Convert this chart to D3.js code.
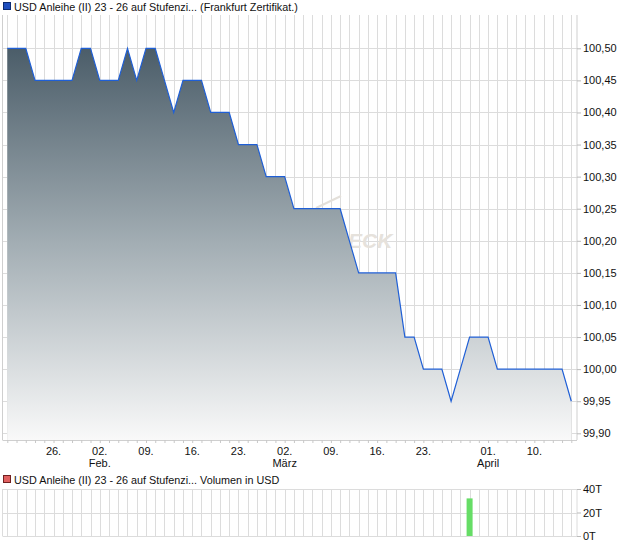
<!DOCTYPE html>
<html>
<head>
<meta charset="utf-8">
<script src="https://cdnjs.cloudflare.com/ajax/libs/d3/7.8.5/d3.min.js"></script>
<style>
  html, body { margin: 0; padding: 0; background: #fff; }
  svg { display: block; font-family: "Liberation Sans", Arial, sans-serif; }
</style>
</head>
<body>
<svg id="chart" width="620" height="546"></svg>
<script>
// ---- Data ----
const dates = [
  "2026-01-19","2026-01-20","2026-01-21","2026-01-22","2026-01-23",
  "2026-01-26","2026-01-27","2026-01-28","2026-01-29","2026-01-30",
  "2026-02-02","2026-02-03","2026-02-04","2026-02-05","2026-02-06",
  "2026-02-09","2026-02-10","2026-02-11","2026-02-12","2026-02-13",
  "2026-02-16","2026-02-17","2026-02-18","2026-02-19","2026-02-20",
  "2026-02-23","2026-02-24","2026-02-25","2026-02-26","2026-02-27",
  "2026-03-02","2026-03-03","2026-03-04","2026-03-05","2026-03-06",
  "2026-03-09","2026-03-10","2026-03-11","2026-03-12","2026-03-13",
  "2026-03-16","2026-03-17","2026-03-18","2026-03-19","2026-03-20",
  "2026-03-23","2026-03-24","2026-03-25","2026-03-26","2026-03-27",
  "2026-03-30","2026-03-31","2026-04-01","2026-04-02",
  "2026-04-07","2026-04-08","2026-04-09","2026-04-10",
  "2026-04-13","2026-04-14","2026-04-15","2026-04-16"
];
const prices = [
  100.50,100.50,100.50,100.45,100.45,
  100.45,100.45,100.45,100.50,100.50,
  100.45,100.45,100.45,100.50,100.45,
  100.50,100.50,100.45,100.40,100.45,
  100.45,100.45,100.40,100.40,100.40,
  100.35,100.35,100.35,100.30,100.30,
  100.30,100.25,100.25,100.25,100.25,
  100.25,100.25,100.20,100.15,100.15,
  100.15,100.15,100.15,100.05,100.05,
  100.00,100.00,100.00,99.95,100.00,
  100.05,100.05,100.05,100.00,
  100.00,100.00,100.00,100.00,
  100.00,100.00,100.00,99.95
];
const volumes = [
  0,0,0,0,0, 0,0,0,0,0, 0,0,0,0,0, 0,0,0,0,0,
  0,0,0,0,0, 0,0,0,0,0, 0,0,0,0,0, 0,0,0,0,0,
  0,0,0,0,0, 0,0,0,0,0, 32000,0,0,0, 0,0,0,0, 0,0,0,0
];
const priceTicks = [99.90,99.95,100.00,100.05,100.10,100.15,100.20,100.25,100.30,100.35,100.40,100.45,100.50];
const volumeTicks = [0, 20000, 40000];
const xTickDates = ["2026-01-26","2026-02-02","2026-02-09","2026-02-16","2026-02-23","2026-03-02","2026-03-09","2026-03-16","2026-03-23","2026-04-01","2026-04-10"];
const xTickDays = ["26.","02.","09.","16.","23.","02.","09.","16.","23.","01.","10."];
const xTickMonths = ["","Feb.","","","","März","","","","April",""];
const priceTitle = "USD Anleihe (II) 23 - 26 auf Stufenzi... (Frankfurt Zertifikat.)";
const volumeTitle = "USD Anleihe (II) 23 - 26 auf Stufenzi... Volumen in USD";

// ---- Layout ----
const plotL = 2.5, plotR = 577;
const mainTop = 15, mainBottom = 440;
const volTop = 489, volBottom = 536;
const gridColor = "#dcdcdc";

const svg = d3.select("#chart");

const x = d3.scalePoint().domain(dates).range([7.3, 571.3]).padding(0);
const y = d3.scaleLinear().domain([99.90, 100.50]).range([433.3, 48.3]);
const yv = d3.scaleLinear().domain([0, 40000]).range([volBottom, volTop]);

const fmt = v => d3.format(".2f")(v).replace(".", ",");

// ---- Legends ----
function legend(yTop, color, border, text) {
  svg.append("rect").attr("x", 3.5).attr("y", yTop + 0.5).attr("width", 7).attr("height", 7)
    .attr("fill", color).attr("stroke", border).attr("stroke-width", 1);
  svg.append("text").attr("x", 14).attr("y", yTop + 8.5)
    .attr("font-size", 10.8).attr("fill", "#111").text(text);
}
legend(2, "#1f4fbf", "#0c2a70", priceTitle);
legend(475, "#e06060", "#702020", volumeTitle);

// ---- Main panel ----
const main = svg.append("g");

// vertical grid
main.selectAll("line.vg").data(dates).join("line")
  .attr("x1", d => Math.round(x(d)) + 0.5).attr("x2", d => Math.round(x(d)) + 0.5)
  .attr("y1", mainTop).attr("y2", mainBottom)
  .attr("stroke", gridColor).attr("stroke-width", 1);
// horizontal grid
main.selectAll("line.hg").data(priceTicks).join("line")
  .attr("x1", plotL).attr("x2", plotR)
  .attr("y1", d => Math.round(y(d)) + 0.5).attr("y2", d => Math.round(y(d)) + 0.5)
  .attr("stroke", gridColor).attr("stroke-width", 1);

// watermark
main.append("line").attr("x1", 316).attr("y1", 208).attr("x2", 341).attr("y2", 196)
  .attr("stroke", "#e4e0da").attr("stroke-width", 2);
main.append("text").attr("x", 348).attr("y", 248).attr("font-size", 21)
  .attr("font-style", "italic").attr("font-weight", "bold").attr("fill", "#e6e2dc")
  .text("ECK");

// gradient
const defs = svg.append("defs");
const grad = defs.append("linearGradient").attr("id", "fillGrad")
  .attr("gradientUnits", "userSpaceOnUse").attr("x1", 0).attr("x2", 0)
  .attr("y1", y(100.50)).attr("y2", mainBottom);
grad.append("stop").attr("offset", "0%").attr("stop-color", "#4b5d69");
grad.append("stop").attr("offset", "50%").attr("stop-color", "#a3aeb4");
grad.append("stop").attr("offset", "100%").attr("stop-color", "#f9f9f9");

const area = d3.area().x((d, i) => x(dates[i])).y0(mainBottom).y1(d => y(d));
main.append("path").datum(prices).attr("d", area).attr("fill", "url(#fillGrad)");

const line = d3.line().x((d, i) => x(dates[i])).y(d => y(d));
main.append("path").datum(prices).attr("d", line).attr("fill", "none")
  .attr("stroke", "#1f5fd6").attr("stroke-width", 1.2);

// frame lines
main.append("line").attr("x1", plotL).attr("x2", plotL).attr("y1", mainTop).attr("y2", mainBottom)
  .attr("stroke", "#cfcfcf");
main.append("line").attr("x1", plotR).attr("x2", plotR).attr("y1", mainTop).attr("y2", mainBottom)
  .attr("stroke", "#cfcfcf");
main.append("line").attr("x1", plotL).attr("x2", plotR).attr("y1", mainBottom + 0.5).attr("y2", mainBottom + 0.5)
  .attr("stroke", "#cfcfcf");

// right axis
const yAxis = d3.axisRight(y).tickValues(priceTicks).tickFormat(fmt).tickSize(4).tickPadding(2);
const ya = svg.append("g").attr("transform", `translate(${plotR},0)`).call(yAxis);
ya.select(".domain").remove();
ya.selectAll("line").attr("stroke", "#bbb");
ya.selectAll("text").attr("font-size", 11).attr("fill", "#111")
  .attr("font-family", "'Liberation Sans', Arial, sans-serif");

// bottom axis (ticks per day)
const xa = svg.append("g").attr("transform", `translate(0,${mainBottom})`)
  .call(d3.axisBottom(x).tickValues(dates).tickSize(3).tickFormat(""));
xa.select(".domain").remove();
xa.selectAll("line").attr("stroke", "#c8c8c8");

const xl = svg.append("g");
xl.selectAll("text.d").data(xTickDates).join("text")
  .attr("x", d => x(d)).attr("y", 455).attr("text-anchor", "middle")
  .attr("font-size", 11).attr("fill", "#111").text((d, i) => xTickDays[i]);
xl.selectAll("text.m").data(xTickDates).join("text")
  .attr("x", d => x(d)).attr("y", 467).attr("text-anchor", "middle")
  .attr("font-size", 11).attr("fill", "#111").text((d, i) => xTickMonths[i]);

// ---- Volume panel ----
const vol = svg.append("g");
vol.selectAll("line.vg").data(dates).join("line")
  .attr("x1", d => Math.round(x(d)) + 0.5).attr("x2", d => Math.round(x(d)) + 0.5)
  .attr("y1", volTop).attr("y2", volBottom)
  .attr("stroke", gridColor);
vol.selectAll("line.hg").data(volumeTicks).join("line")
  .attr("x1", plotL).attr("x2", plotR)
  .attr("y1", d => Math.round(yv(d)) + 0.5).attr("y2", d => Math.round(yv(d)) + 0.5)
  .attr("stroke", gridColor);
vol.append("line").attr("x1", plotL).attr("x2", plotL).attr("y1", volTop).attr("y2", volBottom).attr("stroke", gridColor);
vol.append("line").attr("x1", plotR).attr("x2", plotR).attr("y1", volTop).attr("y2", volBottom).attr("stroke", gridColor);

vol.selectAll("rect.bar").data(volumes).join("rect")
  .attr("x", (d, i) => x(dates[i]) - 3).attr("width", 6)
  .attr("y", d => yv(d)).attr("height", d => volBottom - yv(d))
  .attr("fill", "#66dd66");

const va = svg.append("g").attr("transform", `translate(${plotR},0)`)
  .call(d3.axisRight(yv).tickValues(volumeTicks).tickFormat(d => (d / 1000) + "T").tickSize(4).tickPadding(2));
va.select(".domain").remove();
va.selectAll("line").attr("stroke", "#bbb");
va.selectAll("text").attr("font-size", 11).attr("fill", "#111")
  .attr("font-family", "'Liberation Sans', Arial, sans-serif");
</script>
</body>
</html>
